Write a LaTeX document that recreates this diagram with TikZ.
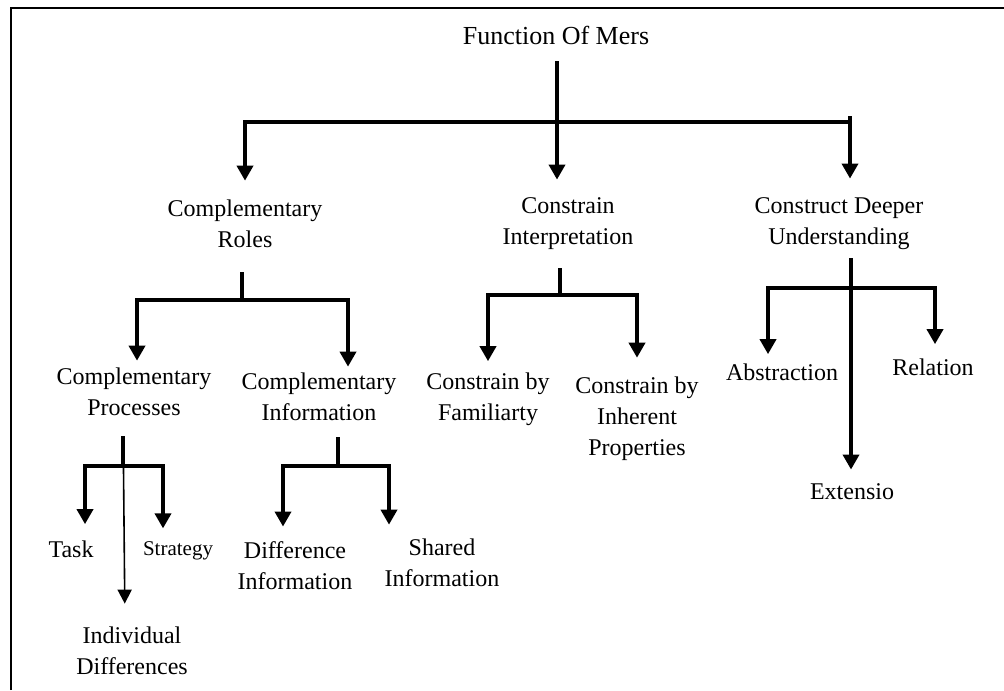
\documentclass[tikz,border=0pt]{standalone}
\usepackage{fontspec}
\setmainfont{Liberation Serif}
\usetikzlibrary{arrows.meta}

\tikzset{
  lbl/.style={align=center, inner sep=0pt, font=\fontsize{12}{15.5}\selectfont},
  link/.style={line width=1.8pt, line cap=rect},
  arr/.style={link, -{Triangle[width=8pt,length=7.5pt]}},
  thinarr/.style={line width=0.8pt, -{Triangle[width=7pt,length=7pt]}}
}

\begin{document}
\begin{tikzpicture}[x=0.5pt,y=-0.5pt]
   \useasboundingbox (0,0) rectangle (1004,690);
   \draw[line width=1pt] (11,690) -- (11,8) -- (1004,8);

   % labels
   \node[lbl,font=\fontsize{13}{16}\selectfont] (fom) at (556,35) {Function Of Mers};
   \node[lbl] (roles)  at (245,224) {Complementary\\Roles};
   \node[lbl] (interp) at (568,224) {Constrain\\Interpretation};
   \node[lbl] (deeper) at (839,224) {Construct Deeper\\Understanding};
   \node[lbl] (procs)  at (134,392) {Complementary\\Processes};
   \node[lbl] (info)   at (319,397) {Complementary\\Information};
   \node[lbl] (fam)    at (488,399) {Constrain by\\Familiarty};
   \node[lbl] (inher)  at (637,419) {Constrain by\\Inherent\\Properties};
   \node[lbl] (abst)   at (782,372) {Abstraction};
   \node[lbl] (rel)    at (933,367) {Relation};
   \node[lbl] (ext)    at (852,492) {Extensio};
   \node[lbl] (task)   at (71,549)  {Task};
   \node[lbl,font=\fontsize{10.5}{13}\selectfont] (strat) at (178,551) {Strategy};
   \node[lbl] (indiv)  at (132,651) {Individual\\Differences};
   \node[lbl] (diffi)  at (295,566) {Difference\\Information};
   \node[lbl] (shared) at (442,563) {Shared\\Information};

   % junctions
   \coordinate (j0)  at (557,122);
   \coordinate (j0l) at (245,122);
   \coordinate (j0r) at (850,122);
   \coordinate (j1)  at (242,300);
   \coordinate (j1l) at (137,300);
   \coordinate (j1r) at (348,300);
   \coordinate (j2)  at (560,295);
   \coordinate (j2l) at (488,295);
   \coordinate (j2r) at (637,295);
   \coordinate (j3)  at (851,288);
   \coordinate (j3l) at (768,288);
   \coordinate (j3r) at (935,288);
   \coordinate (j4)  at (123,466);
   \coordinate (j4l) at (85,466);
   \coordinate (j4r) at (163,466);
   \coordinate (j5)  at (338,466);
   \coordinate (j5l) at (283,466);
   \coordinate (j5r) at (389,466);

   % function of mers
   \draw[link,shorten <=9pt] (j0 |- fom.south) -- (j0);
   \draw[link] (j0l) -- (j0r);
   \draw[arr,shorten >=9.5pt] (j0l) -- (j0l |- roles.north);
   \draw[arr,shorten >=9pt] (j0) -- (j0 |- interp.north);
   \draw[arr,shorten >=9.5pt] ([yshift=2pt]j0r) -- (j0r |- deeper.north);

   % complementary roles
   \draw[link,shorten <=12.5pt] (j1 |- roles.south) -- (j1);
   \draw[link] (j1l) -- (j1r);
   \draw[arr,shorten >=3.5pt] (j1l) -- (j1l |- procs.north);
   \draw[arr,shorten >=3pt] (j1r) -- (j1r |- info.north);

   % constrain interpretation
   \draw[link,shorten <=9.5pt] (j2 |- interp.south) -- (j2);
   \draw[link] (j2l) -- (j2r);
   \draw[arr,shorten >=5.5pt] (j2l) -- (j2l |- fam.north);
   \draw[arr,shorten >=9.5pt] (j2r) -- (j2r |- inher.north);

   % construct deeper understanding
   \draw[link] (j3l) -- (j3r);
   \draw[arr,shorten <=4.5pt,shorten >=7pt] (j3 |- deeper.south) -- (j3 |- ext.north);
   \draw[arr,shorten >=4.5pt] (j3l) -- (j3l |- abst.north);
   \draw[arr,shorten >=7pt] (j3r) -- (j3r |- rel.north);

   % complementary processes
   \draw[link,shorten <=10.5pt] (j4 |- procs.south) -- (j4);
   \draw[link] (j4l) -- (j4r);
   \draw[arr,shorten >=8pt] (j4l) -- (j4l |- task.north);
   \draw[arr,shorten >=6.5pt] (j4r) -- (j4r |- strat.north);
   \draw[thinarr,shorten <=10.5pt,shorten >=11.5pt] (j4 |- procs.south) -- ([xshift=1pt]j4 |- indiv.north);

   % complementary information
   \draw[link,shorten <=8.5pt] (j5 |- info.south) -- (j5);
   \draw[link] (j5l) -- (j5r);
   \draw[arr,shorten >=7.5pt] (j5l) -- (j5l |- diffi.north);
   \draw[arr,shorten >=7pt] (j5r) -- (j5r |- shared.north);
\end{tikzpicture}
\end{document}
